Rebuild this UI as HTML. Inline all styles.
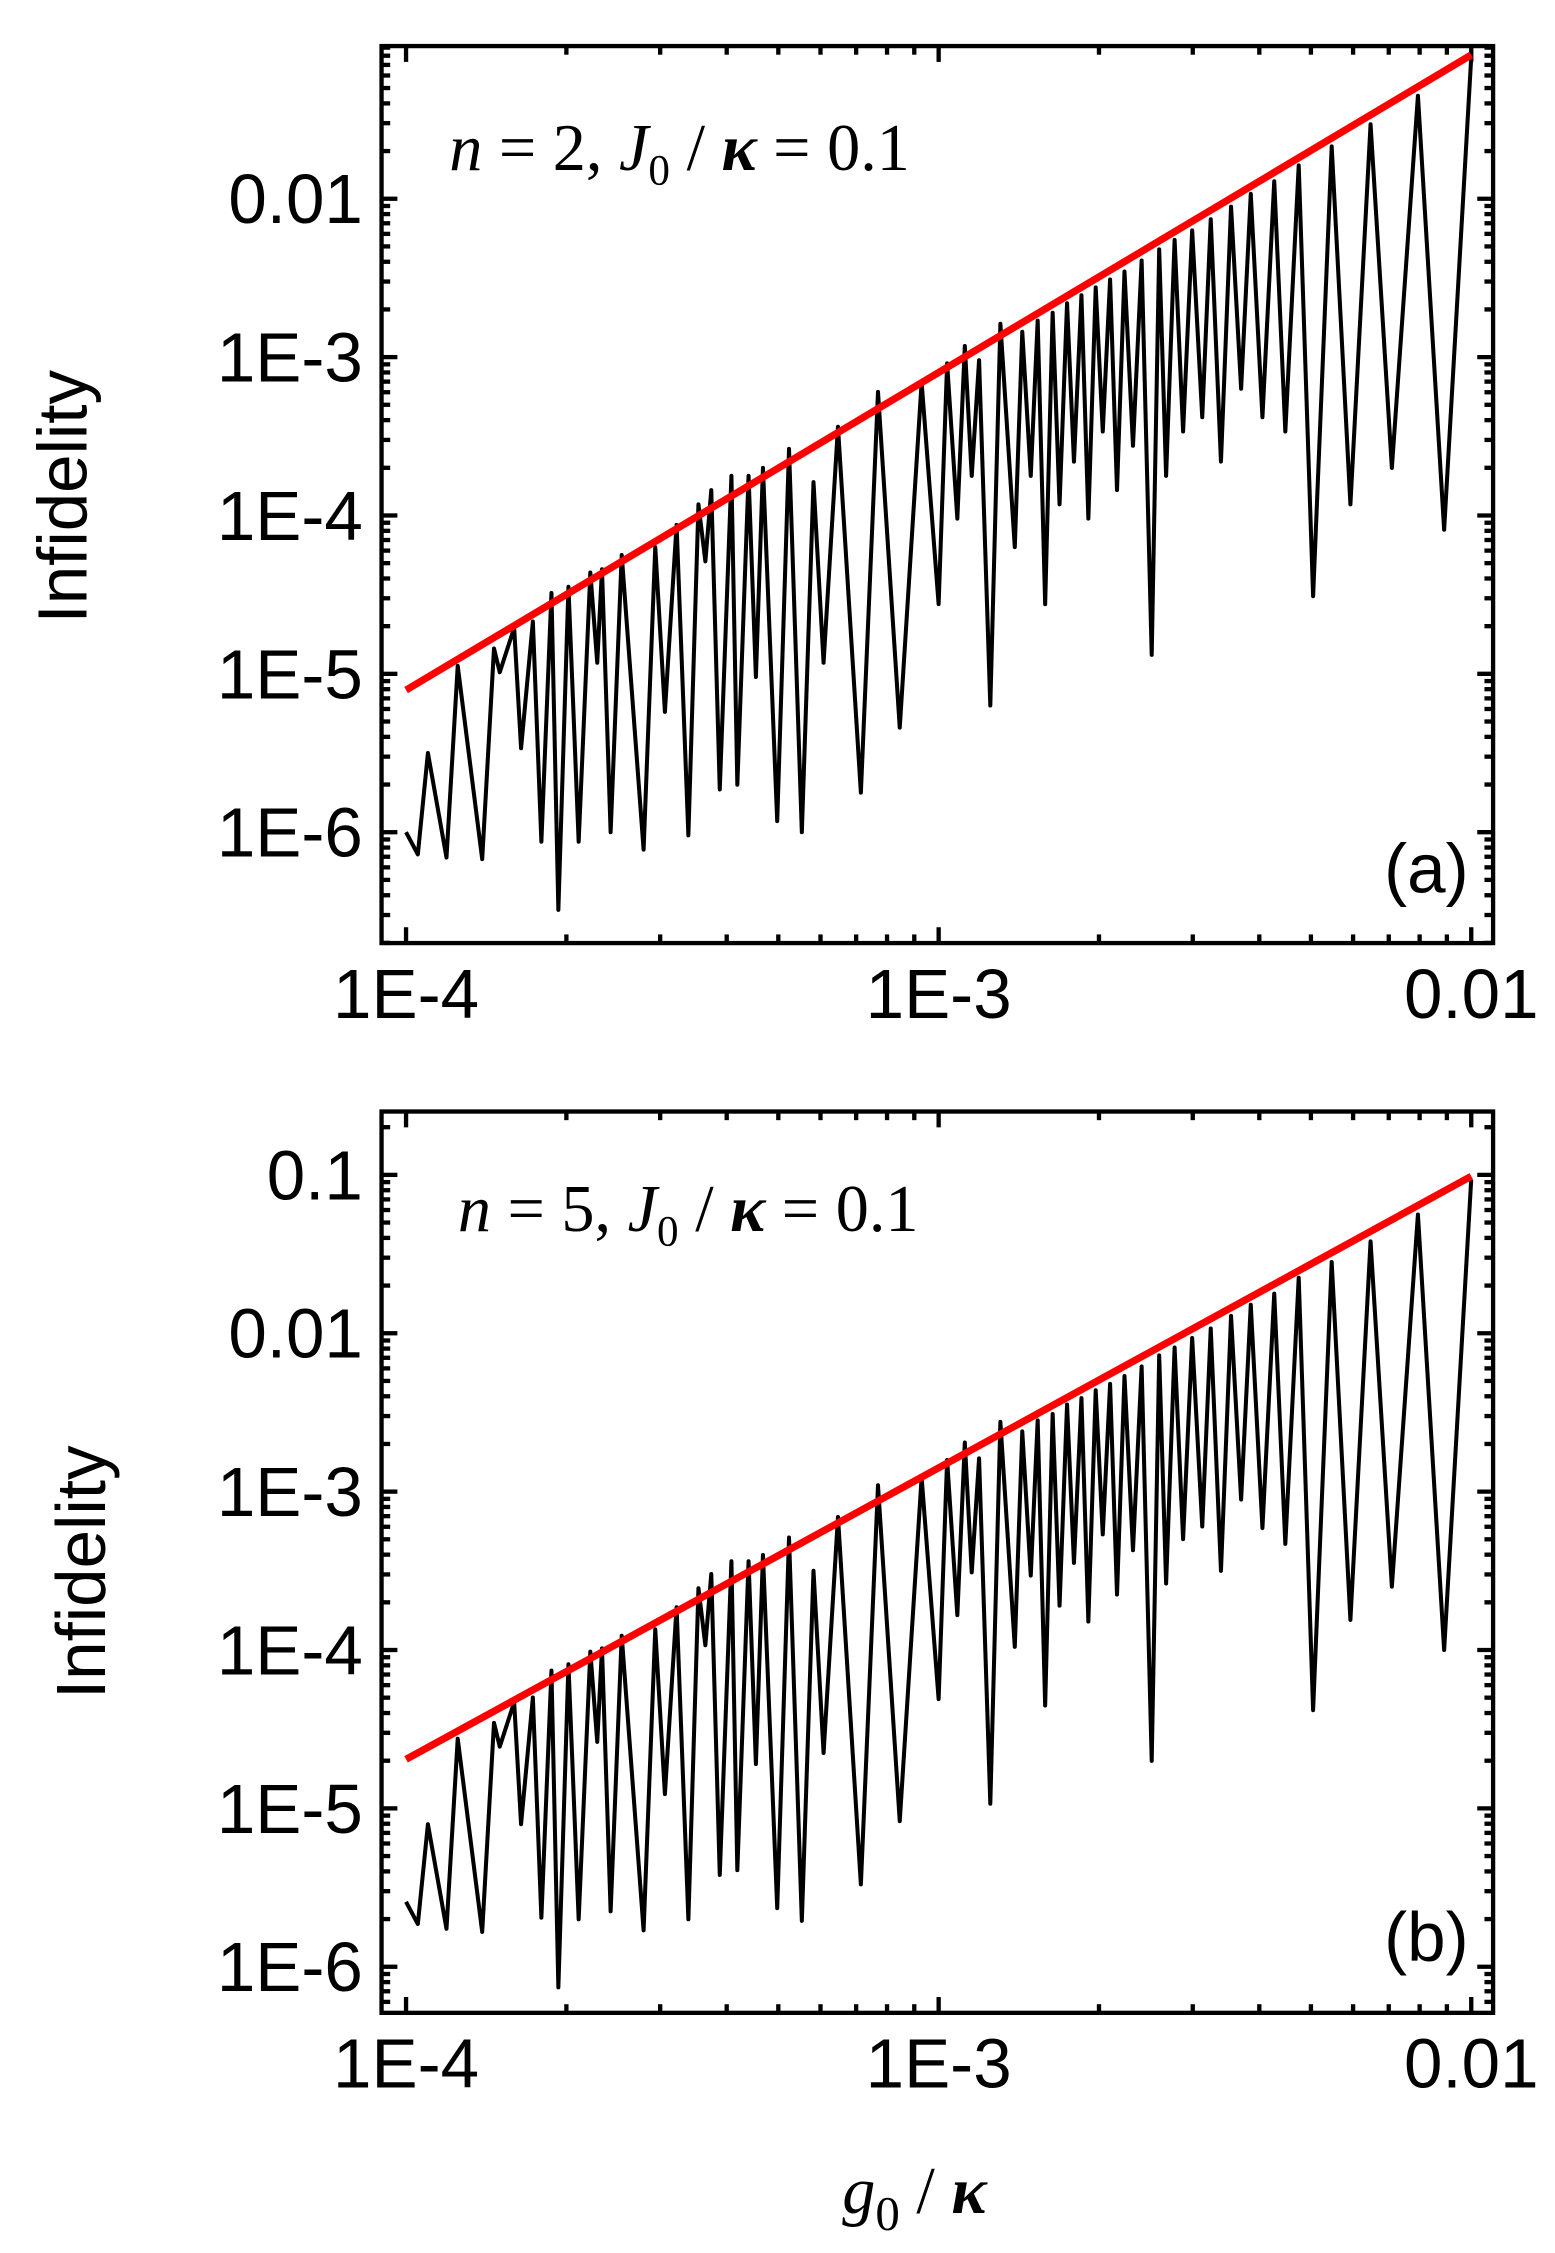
<!DOCTYPE html>
<html><head><meta charset="utf-8"><style>
html,body{margin:0;padding:0;background:#fff;}
svg{display:block;}
.tk{font-family:"Liberation Sans",sans-serif;font-size:48px;fill:#000;}
.ann{font-family:"Liberation Serif",serif;font-size:46px;fill:#000;}
</style></head><body>
<svg id="fig" width="1555" height="2253" viewBox="0 0 1080 1564.8" preserveAspectRatio="none" xmlns="http://www.w3.org/2000/svg">
<text class="tk" transform="translate(60,345) rotate(-90)" text-anchor="middle" font-size="50">Infidelity</text>
<text class="tk" transform="translate(73,1092) rotate(-90)" text-anchor="middle" font-size="50">Infidelity</text>
<text class="ann" x="585" y="1537" font-size="60"><tspan font-style="italic">g</tspan><tspan font-size="34" dy="12">0</tspan><tspan dy="-12"> / </tspan><tspan font-style="italic" font-weight="bold">κ</tspan></text>
<text class="ann" x="312" y="118"><tspan font-style="italic">n</tspan> = 2, <tspan font-style="italic">J</tspan><tspan font-size="30" dy="10">0</tspan><tspan dy="-10"> / </tspan><tspan font-style="italic" font-weight="bold">κ</tspan> = 0.1</text>
<text class="ann" x="318" y="855"><tspan font-style="italic">n</tspan> = 5, <tspan font-style="italic">J</tspan><tspan font-size="30" dy="10">0</tspan><tspan dy="-10"> / </tspan><tspan font-style="italic" font-weight="bold">κ</tspan> = 0.1</text>
<text class="tk" x="1020" y="620" text-anchor="end" font-size="52">(a)</text>
<text class="tk" x="1020" y="1362" text-anchor="end" font-size="52">(b)</text>
</svg>
<script>
const logG = [-4.000,-3.978,-3.959,-3.924,-3.903,-3.857,-3.835,-3.824,-3.797,-3.784,-3.762,-3.746,-3.727,-3.714,-3.695,-3.676,-3.654,-3.641,-3.632,-3.616,-3.595,-3.554,-3.532,-3.514,-3.492,-3.470,-3.451,-3.438,-3.427,-3.411,-3.389,-3.378,-3.357,-3.343,-3.330,-3.303,-3.281,-3.257,-3.235,-3.216,-3.189,-3.146,-3.114,-3.073,-3.032,-3.000,-2.984,-2.965,-2.951,-2.938,-2.924,-2.903,-2.884,-2.857,-2.843,-2.827,-2.814,-2.800,-2.786,-2.773,-2.759,-2.746,-2.732,-2.719,-2.705,-2.692,-2.678,-2.665,-2.651,-2.635,-2.619,-2.600,-2.586,-2.573,-2.557,-2.541,-2.524,-2.505,-2.489,-2.470,-2.451,-2.432,-2.414,-2.392,-2.370,-2.349,-2.324,-2.297,-2.262,-2.227,-2.189,-2.149,-2.100,-2.051,-2.000];
const logInfA = [-6.00,-6.14,-5.50,-6.16,-4.95,-6.17,-4.84,-4.99,-4.71,-5.47,-4.67,-6.06,-4.49,-6.49,-4.45,-6.06,-4.36,-4.93,-4.34,-6.00,-4.25,-6.11,-4.20,-5.24,-4.06,-6.02,-3.93,-4.29,-3.84,-5.73,-3.75,-5.70,-3.75,-5.02,-3.70,-5.93,-3.58,-6.00,-3.79,-4.93,-3.44,-5.75,-3.22,-5.34,-3.16,-4.56,-3.04,-4.02,-2.93,-3.75,-3.02,-5.20,-2.79,-4.20,-2.84,-3.75,-2.77,-4.56,-2.72,-3.93,-2.66,-3.66,-2.61,-4.02,-2.56,-3.47,-2.51,-3.84,-2.46,-3.56,-2.39,-4.88,-2.32,-3.75,-2.26,-3.47,-2.20,-3.38,-2.13,-3.66,-2.05,-3.20,-1.97,-3.38,-1.89,-3.47,-1.79,-4.51,-1.67,-3.93,-1.53,-3.70,-1.35,-4.09,-1.11];
const logInfB = [-5.59,-5.73,-5.10,-5.76,-4.56,-5.78,-4.46,-4.61,-4.33,-5.10,-4.30,-5.69,-4.13,-6.13,-4.09,-5.70,-4.01,-4.58,-3.99,-5.65,-3.91,-5.77,-3.87,-4.91,-3.73,-5.70,-3.61,-3.97,-3.52,-5.42,-3.44,-5.39,-3.44,-4.72,-3.40,-5.63,-3.29,-5.71,-3.50,-4.65,-3.16,-5.48,-2.96,-5.08,-2.91,-4.31,-2.80,-3.78,-2.69,-3.51,-2.79,-4.97,-2.56,-3.98,-2.62,-3.53,-2.55,-4.35,-2.51,-3.72,-2.45,-3.45,-2.41,-3.82,-2.36,-3.27,-2.32,-3.65,-2.27,-3.37,-2.21,-4.70,-2.14,-3.58,-2.09,-3.30,-2.03,-3.22,-1.97,-3.50,-1.89,-3.05,-1.82,-3.23,-1.75,-3.33,-1.65,-4.38,-1.55,-3.81,-1.42,-3.60,-1.25,-4.00,-1.03];
const redG = [1e-4, 1e-2];
const redA = [7.9e-6, 0.081];
const redB = [2.04e-5, 0.098];
const xTickLabels = ["1E-4","1E-3","0.01"];
const yTickLabelsA = ["1E-6","1E-5","1E-4","1E-3","0.01"];
const yTickLabelsB = ["1E-6","1E-5","1E-4","1E-3","0.01","0.1"];

const NS="http://www.w3.org/2000/svg";
const svg=document.getElementById('fig');
function mk(tag,attrs){const e=document.createElementNS(NS,tag);for(const k in attrs)e.setAttribute(k,attrs[k]);svg.appendChild(e);return e;}

function panel(id,top,bottom,yMinLog,yMaxLog,infLogs,red,yLabels,firstDec){
  const L=265,R=1037;
  const xLo=-4.046,xHi=-1.959;
  const X=lg=>L+(lg-xLo)/(xHi-xLo)*(R-L);
  const Y=lf=>bottom-(lf-yMinLog)/(yMaxLog-yMinLog)*(bottom-top);
  for(let d=-4;d<=-2;d++){
    for(let m=1;m<=9;m++){
      const lg=d+Math.log10(m); if(lg>xHi||lg<xLo) continue;
      const len=m===1?11:6;const x=X(lg);
      const t1=mk('line',{x1:x,y1:bottom,x2:x,y2:bottom-len,stroke:'#000','stroke-width':3});
      
      
      const t2=mk('line',{x1:x,y1:top,x2:x,y2:top+len,stroke:'#000','stroke-width':3});
      
      
    }
  }
  xTickLabels.forEach((s,i)=>{
    const t=mk('text',{x:X(-4+i),y:bottom+52,'text-anchor':'middle',class:'tk'});
    t.textContent=s;
    
    
  });
  for(let d=-7;d<=0;d++){
    for(let m=1;m<=9;m++){
      const lf=d+Math.log10(m); if(lf>yMaxLog||lf<yMinLog) continue;
      const len=m===1?11:6;const y=Y(lf);
      const t1=mk('line',{x1:L,y1:y,x2:L+len,y2:y,stroke:'#000','stroke-width':3});
      
      
      const t2=mk('line',{x1:R,y1:y,x2:R-len,y2:y,stroke:'#000','stroke-width':3});
      
      
    }
  }
  yLabels.forEach((s,i)=>{
    const t=mk('text',{x:252,y:Y(firstDec+i)+17,'text-anchor':'end',class:'tk'});
    t.textContent=s;
    
    
  });
  let d='';
  logG.forEach((g,i)=>{d+=(i?'L':'M')+X(g).toFixed(1)+','+Y(infLogs[i]).toFixed(1);});
  const p=mk('path',{d:d,fill:'none',stroke:'#000','stroke-width':2.8,'stroke-linejoin':'round'});
  
  
  const r=mk('line',{x1:X(Math.log10(redG[0])),y1:Y(Math.log10(red[0])),x2:X(Math.log10(redG[1])),y2:Y(Math.log10(red[1])),stroke:'#ff0000','stroke-width':5});
  
  
  const f=mk('rect',{x:L,y:top,width:R-L,height:bottom-top,fill:'none',stroke:'#000','stroke-width':3});
  
  
}
panel('a',32,655,-6.700,-1.036,logInfA,redA,yTickLabelsA,-6);
panel('b',772,1398,-6.291,-0.600,logInfB,redB,yTickLabelsB,-6);
</script>
</body></html>
